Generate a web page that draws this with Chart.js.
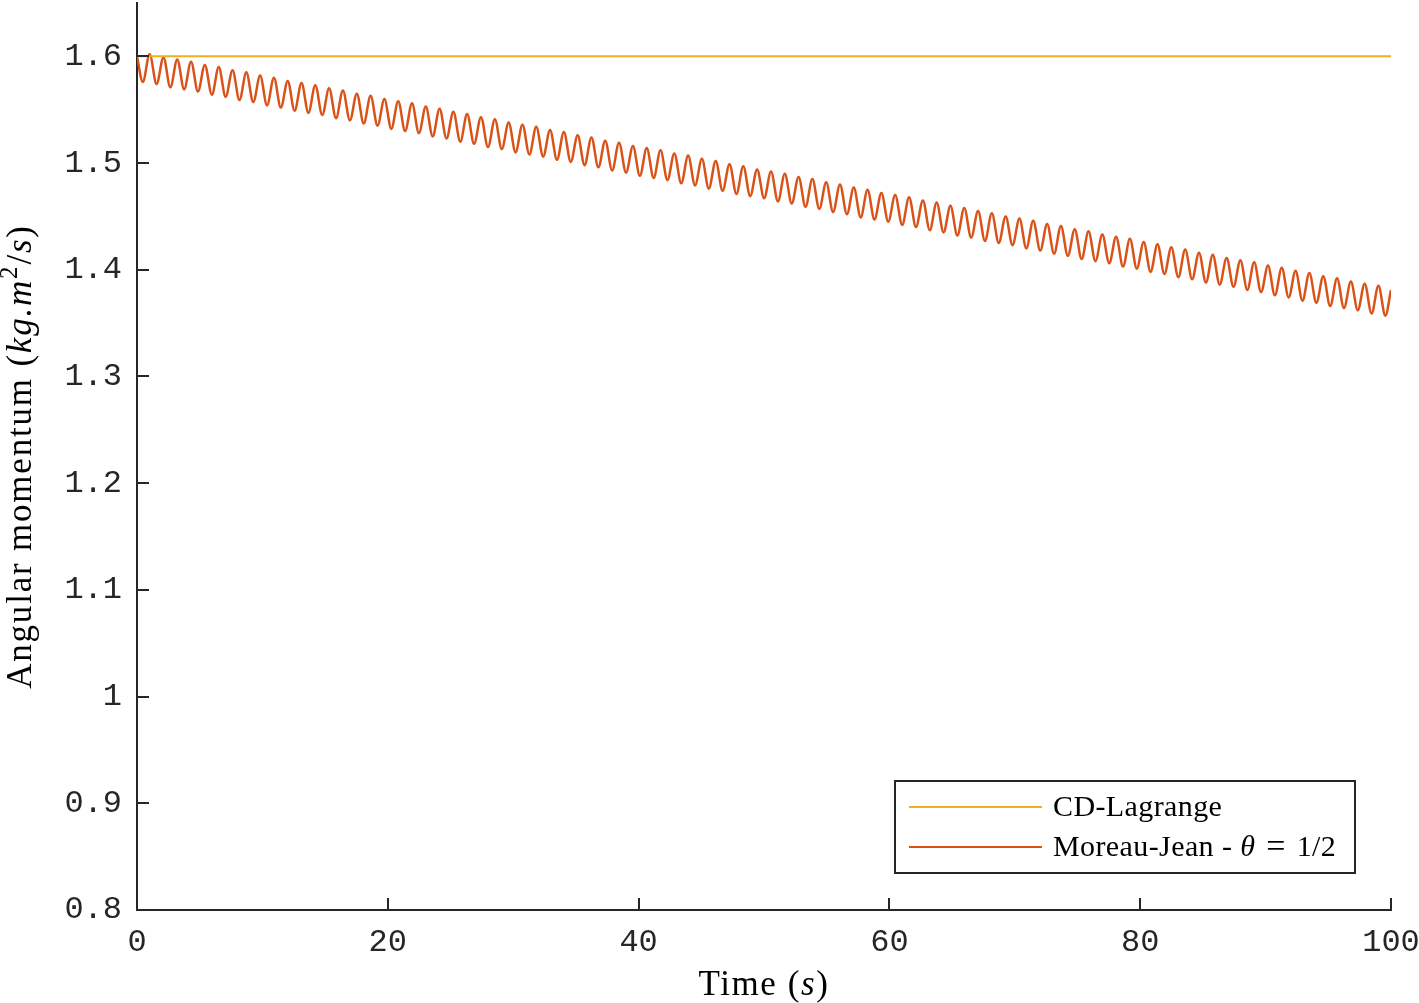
<!DOCTYPE html>
<html><head><meta charset="utf-8">
<script src="https://cdn.jsdelivr.net/npm/chart.js@4.4.0/dist/chart.umd.min.js"></script>
<style>html,body{margin:0;padding:0;background:#fff;}#wrap{width:1419px;height:1003px;}</style>
</head><body><div id="wrap"><canvas id="c" width="1419" height="1003"></canvas></div>
<script>
const seriesNames = ['CD-Lagrange', 'Moreau-Jean - θ = 1/2'];
const seriesColors = ['#EDB120', '#D95319'];
const lagrangeTimes = [0, 100];
const lagrangeValues = [1.6, 1.6];
const mjStartTime = 0, mjStartValue = 1.600;
const mjEndTime = 100, mjEndValue = 1.381;
const mjPeakTimes = [1.01,2.11,3.21,4.31,5.41,6.52,7.62,8.72,9.82,10.92,12.02,13.12,14.22,15.32,16.42,17.53,18.63,19.73,20.83,21.93,23.03,24.13,25.23,26.33,27.43,28.54,29.64,30.74,31.84,32.94,34.04,35.14,36.24,37.34,38.44,39.55,40.65,41.75,42.85,43.95,45.05,46.15,47.25,48.35,49.45,50.56,51.66,52.76,53.86,54.96,56.06,57.16,58.26,59.36,60.46,61.57,62.67,63.77,64.87,65.97,67.07,68.17,69.27,70.37,71.47,72.58,73.68,74.78,75.88,76.98,78.08,79.18,80.28,81.38,82.48,83.59,84.69,85.79,86.89,87.99,89.09,90.19,91.29,92.39,93.49,94.60,95.70,96.80,97.90,99.00];
const mjPeakValues = [1.602,1.599,1.597,1.595,1.592,1.590,1.587,1.585,1.582,1.580,1.577,1.575,1.573,1.570,1.568,1.565,1.563,1.560,1.558,1.556,1.553,1.551,1.548,1.546,1.543,1.541,1.538,1.536,1.534,1.531,1.529,1.526,1.524,1.521,1.519,1.516,1.514,1.512,1.509,1.507,1.504,1.502,1.499,1.497,1.494,1.492,1.490,1.487,1.485,1.482,1.480,1.477,1.475,1.472,1.470,1.468,1.465,1.463,1.460,1.458,1.455,1.453,1.450,1.448,1.446,1.443,1.441,1.438,1.436,1.433,1.431,1.429,1.426,1.424,1.421,1.419,1.416,1.414,1.411,1.409,1.407,1.404,1.402,1.399,1.397,1.394,1.392,1.389,1.387,1.385];
const mjTroughTimes = [0.46,1.56,2.66,3.76,4.86,5.97,7.07,8.17,9.27,10.37,11.47,12.57,13.67,14.77,15.87,16.98,18.08,19.18,20.28,21.38,22.48,23.58,24.68,25.78,26.88,27.99,29.09,30.19,31.29,32.39,33.49,34.59,35.69,36.79,37.89,39.00,40.10,41.20,42.30,43.40,44.50,45.60,46.70,47.80,48.90,50.01,51.11,52.21,53.31,54.41,55.51,56.61,57.71,58.81,59.91,61.02,62.12,63.22,64.32,65.42,66.52,67.62,68.72,69.82,70.92,72.03,73.13,74.23,75.33,76.43,77.53,78.63,79.73,80.83,81.93,83.04,84.14,85.24,86.34,87.44,88.54,89.64,90.74,91.84,92.94,94.05,95.15,96.25,97.35,98.45,99.55];
const mjTroughValues = [1.576,1.574,1.571,1.569,1.567,1.564,1.562,1.559,1.557,1.554,1.552,1.549,1.547,1.545,1.542,1.540,1.537,1.535,1.532,1.530,1.528,1.525,1.523,1.520,1.518,1.515,1.513,1.510,1.508,1.506,1.503,1.501,1.498,1.496,1.493,1.491,1.488,1.486,1.484,1.481,1.479,1.476,1.474,1.471,1.469,1.467,1.464,1.462,1.459,1.457,1.454,1.452,1.449,1.447,1.445,1.442,1.440,1.437,1.435,1.432,1.430,1.427,1.425,1.423,1.420,1.418,1.415,1.413,1.410,1.408,1.406,1.403,1.401,1.398,1.396,1.393,1.391,1.388,1.386,1.384,1.381,1.379,1.376,1.374,1.371,1.369,1.366,1.364,1.362,1.359,1.357];
const xTickValues = [0, 20, 40, 60, 80, 100];
const xTickLabels = ['0', '20', '40', '60', '80', '100'];
const yTickValues = [0.8, 0.9, 1.0, 1.1, 1.2, 1.3, 1.4, 1.5, 1.6];
const yTickLabels = ['0.8', '0.9', '1', '1.1', '1.2', '1.3', '1.4', '1.5', '1.6'];
const xTitleParts = [{t:'Time ('}, {t:'s', it:true}, {t:')'}];
const yTitleParts = [{t:'Angular momentum ('}, {t:'kg.m', it:true}, {t:'2', sup:true}, {t:'/'}, {t:'s', it:true}, {t:')'}];

const lagrangePts = lagrangeTimes.map((t, i) => ({x: t, y: lagrangeValues[i]}));
const mjPts = [{x: mjStartTime, y: mjStartValue}]
  .concat(mjPeakTimes.map((t, i) => ({x: t, y: mjPeakValues[i]})))
  .concat(mjTroughTimes.map((t, i) => ({x: t, y: mjTroughValues[i]})))
  .concat([{x: mjEndTime, y: mjEndValue}])
  .sort((a, b) => a.x - b.x);

const AX = '#262626';
const SERIF = '"Liberation Serif", "DejaVu Serif", serif';
const MONO = '"Liberation Mono", "DejaVu Sans Mono", monospace';

function drawRich(c, parts, x0, y0, rot, size, spacing) {
  c.save();
  c.translate(x0, y0);
  c.rotate(rot);
  c.letterSpacing = spacing + 'px';
  const fonts = parts.map(p => (p.it ? 'italic ' : '') + (p.sup ? Math.round(size * 0.7) : size) + 'px ' + SERIF);
  let w = 0;
  const ws = parts.map((p, i) => { c.font = fonts[i]; const m = c.measureText(p.t).width; w += m; return m; });
  let x = -w / 2;
  c.fillStyle = '#000';
  c.textBaseline = 'alphabetic';
  c.textAlign = 'left';
  parts.forEach((p, i) => { c.font = fonts[i]; c.fillText(p.t, x, p.sup ? -size * 0.4 : 0); x += ws[i]; });
  c.restore();
}

function zeroPad(s) { s.paddingTop = 0; s.paddingBottom = 0; s.paddingLeft = 0; s.paddingRight = 0; }

const decorPlugin = {
  id: 'decor',
  afterDatasetsDraw(chart) {
    const c = chart.ctx, a = chart.chartArea;
    const xs = chart.scales.x, ys = chart.scales.y;
    c.save();
    c.strokeStyle = AX; c.lineWidth = 2;
    c.beginPath();
    xs.ticks.forEach(t => { const px = Math.round(xs.getPixelForValue(t.value)); c.moveTo(px, a.bottom); c.lineTo(px, a.bottom - 12); });
    ys.ticks.forEach(t => { const py = Math.round(ys.getPixelForValue(t.value)); c.moveTo(a.left, py); c.lineTo(a.left + 12, py); });
    c.stroke();
    // legend
    const bx = a.right - 496, by = a.bottom - 129, bw = 460, bh = 92;
    c.fillStyle = '#fff';
    c.fillRect(bx, by, bw, bh);
    c.strokeStyle = AX; c.lineWidth = 2;
    c.strokeRect(bx, by, bw, bh);
    c.letterSpacing = '0.4px';
    chart.data.datasets.forEach((ds, i) => {
      const ry = by + 26 + i * 40;
      c.strokeStyle = ds.borderColor; c.lineWidth = 2;
      c.beginPath(); c.moveTo(bx + 14, ry); c.lineTo(bx + 147, ry); c.stroke();
      c.fillStyle = '#000'; c.textBaseline = 'middle'; c.textAlign = 'left';
      let x = bx + 158;
      const segs = ds.label.split(/(θ|=)/);
      segs.forEach(s => {
        if (s === 'θ') { c.font = 'italic 30px ' + SERIF; }
        else if (s === '=') { c.font = '34px ' + SERIF; }
        else { c.font = '30px ' + SERIF; }
        if (s === '=') x += 3;
        c.fillText(s, x, ry + 1);
        x += c.measureText(s).width;
        if (s === '=') x += 3;
      });
    });
    c.restore();
  },
  afterDraw(chart) {
    const c = chart.ctx, a = chart.chartArea;
    drawRich(c, xTitleParts, (a.left + a.right) / 2, 995, 0, 35, 1.6);
    drawRich(c, yTitleParts, 31, (a.top + a.bottom) / 2, -Math.PI / 2, 35, 1.8);
  }
};

new Chart(document.getElementById('c'), {
  type: 'line',
  data: {
    datasets: [
      {label: seriesNames[0], data: lagrangePts, borderColor: seriesColors[0], borderWidth: 2, pointRadius: 0, tension: 0},
      {label: seriesNames[1], data: mjPts, borderColor: seriesColors[1], borderWidth: 2.5, pointRadius: 0, cubicInterpolationMode: 'monotone'}
    ]
  },
  options: {
    responsive: false, animation: false, devicePixelRatio: 1,
    layout: {padding: {left: 0, right: 28, top: 3, bottom: 0}},
    plugins: {legend: {display: false}, tooltip: {enabled: false}},
    scales: {
      x: {
        type: 'linear', min: 0, max: 100,
        afterBuildTicks: s => { s.ticks = xTickValues.map(v => ({value: v})); },
        afterFit: s => { s.height = 93; zeroPad(s); },
        grid: {display: true, drawOnChartArea: false, drawTicks: false},
        border: {display: true, color: AX, width: 2},
        ticks: {
          font: {family: MONO, size: 32}, color: AX, padding: 13, maxRotation: 0, autoSkip: false,
          callback: (v) => xTickLabels[xTickValues.indexOf(v)]
        }
      },
      y: {
        type: 'linear', min: 0.8, max: 1.65,
        afterBuildTicks: s => { s.ticks = yTickValues.map(v => ({value: v})); },
        afterFit: s => { s.width = 137; zeroPad(s); },
        grid: {display: true, drawOnChartArea: false, drawTicks: false},
        border: {display: true, color: AX, width: 2},
        ticks: {
          font: {family: MONO, size: 32}, color: AX, padding: 15, autoSkip: false,
          callback: (v) => { const i = yTickValues.findIndex(u => Math.abs(u - v) < 1e-9); return i >= 0 ? yTickLabels[i] : ''; }
        }
      }
    }
  },
  plugins: [decorPlugin]
});
</script>
</body></html>
